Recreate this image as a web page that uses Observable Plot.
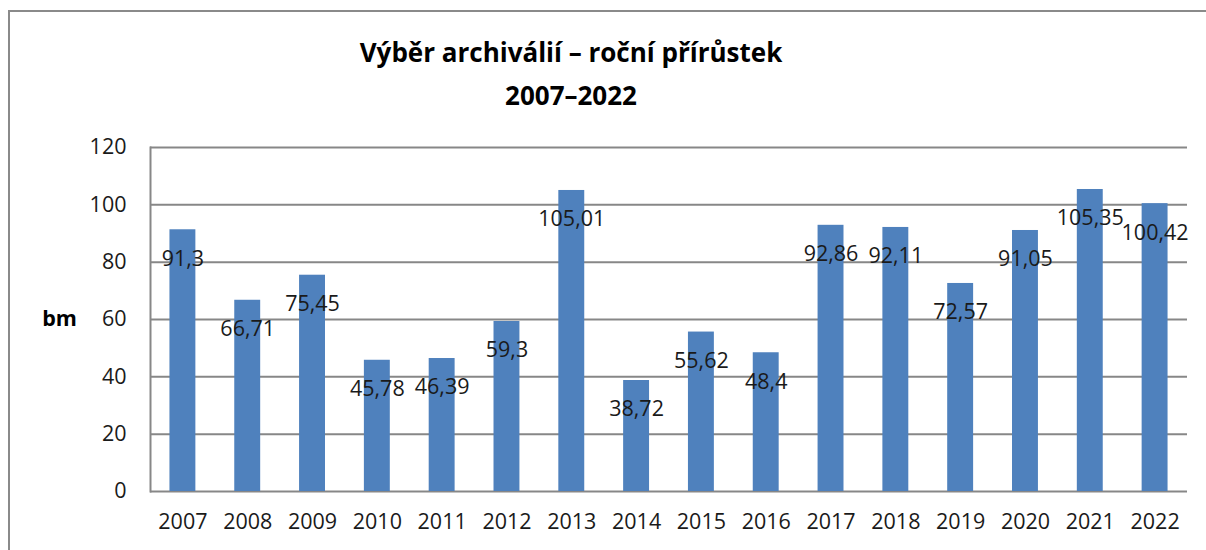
<!DOCTYPE html>
<html>
<head>
<meta charset="utf-8">
<script src="https://cdn.jsdelivr.net/npm/d3@7"></script>
<script src="https://cdn.jsdelivr.net/npm/@observablehq/plot@0.6"></script>
<style>
  html, body { margin: 0; padding: 0; background: #fff; width: 1206px; height: 550px; overflow: hidden; }
  #frame { position: absolute; left: 8px; top: 10px; width: 1250px; height: 600px; border-left: 2px solid #8a8a8a; border-top: 2px solid #8a8a8a; box-sizing: border-box; }
  #title { position: absolute; left: 0; top: 31px; width: 1142px; text-align: center; font-family: "Open Sans", sans-serif; font-weight: bold; font-size: 26px; line-height: 43px; color: #000; }
  #chart { position: absolute; left: 0; top: 130px; }
</style>
</head>
<body>
<div id="frame"></div>
<div id="title">Výběr archiválií – roční přírůstek<br>2007–2022</div>
<div id="chart"></div>
<script>
const years = ["2007","2008","2009","2010","2011","2012","2013","2014","2015","2016","2017","2018","2019","2020","2021","2022"];
const values = [91.3, 66.71, 75.45, 45.78, 46.39, 59.3, 105.01, 38.72, 55.62, 48.4, 92.86, 92.11, 72.57, 91.05, 105.35, 100.42];
const yTicks = [0, 20, 40, 60, 80, 100, 120];
const yLabel = "bm";

const data = years.map((y, i) => ({year: y, value: values[i], label: String(values[i]).replace(".", ",")}));
const fmt = "Open Sans, sans-serif";

const chart = Plot.plot({
  width: 1206,
  height: 420,
  marginTop: 17,
  marginBottom: 59,
  marginLeft: 150,
  marginRight: 19,
  style: {fontFamily: fmt, fontSize: "21.5px", color: "#1a1a1a", background: "transparent"},
  x: {domain: years, paddingInner: 0.6, paddingOuter: 0.3, round: false, label: null},
  y: {domain: [0, 120], label: null},
  marks: [
    Plot.ruleY(yTicks, {stroke: "#878787", strokeWidth: 2}),
    Plot.frame({anchor: "left", stroke: "#878787", strokeWidth: 2}),
    Plot.barY(data, {x: "year", y: "value", fill: "#4F81BD"}),
    Plot.axisY({ticks: yTicks, tickSize: 0, tickPadding: 24, fontSize: "21.5px", fill: "#1a1a1a", label: null}),
    Plot.axisX({tickSize: 0, tickPadding: 22, fontSize: "21.5px", fill: "#1a1a1a", label: null}),
    Plot.text(data, {x: "year", y: "value", text: "label", dy: 29, fontSize: "21.5px", fill: "#1a1a1a"}),
    Plot.text([yLabel], {frameAnchor: "left", dx: -91, textAnchor: "middle", text: d => d, fontWeight: "bold", fontSize: "21.5px", fill: "#000"})
  ]
});
document.getElementById("chart").appendChild(chart);
</script>
</body>
</html>
